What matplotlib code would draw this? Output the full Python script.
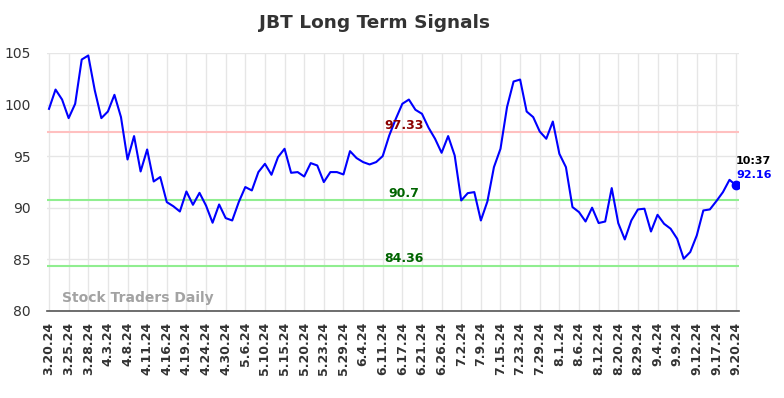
import matplotlib.pyplot as plt

# closing prices, 3 samples per date label
prices = [
    99.58, 101.45, 100.48, 98.68, 100.07, 104.36, 104.75, 101.36, 98.68, 99.32,
    100.94, 98.78, 94.67, 96.94, 93.51, 95.64, 92.54, 92.97, 90.54, 90.14,
    89.63, 91.57, 90.28, 91.44, 90.20, 88.54, 90.31, 88.99, 88.76, 90.54,
    92.0, 91.67, 93.45, 94.25, 93.19, 94.9, 95.71, 93.38, 93.45, 93.02,
    94.32, 94.09, 92.48, 93.45, 93.45, 93.22, 95.48, 94.81, 94.42, 94.19,
    94.42, 95.0, 97.0, 98.61, 100.07, 100.48, 99.49, 99.1, 97.76, 96.68,
    95.32, 96.94, 95.06, 90.7, 91.41, 91.51, 88.76, 90.6, 93.93, 95.71,
    99.75, 102.23, 102.42, 99.32, 98.78, 97.38, 96.68, 98.35, 95.22, 93.93,
    90.06, 89.57, 88.66, 90.0, 88.51, 88.66, 91.9, 88.5, 86.92, 88.76,
    89.83, 89.9, 87.69, 89.31, 88.44, 87.96, 86.99, 85.05, 85.7, 87.31,
    89.73, 89.83, 90.64, 91.51, 92.7, 92.16,
]
date_labels = [
    "3.20.24", "3.25.24", "3.28.24", "4.3.24", "4.8.24", "4.11.24", "4.16.24",
    "4.19.24", "4.24.24", "4.30.24", "5.6.24", "5.10.24", "5.15.24", "5.20.24",
    "5.23.24", "5.29.24", "6.4.24", "6.11.24", "6.17.24", "6.21.24", "6.26.24",
    "7.2.24", "7.9.24", "7.15.24", "7.23.24", "7.29.24", "8.1.24", "8.6.24",
    "8.12.24", "8.20.24", "8.29.24", "9.4.24", "9.9.24", "9.12.24", "9.17.24",
    "9.20.24",
]
upper = 97.33
mid = 90.7
lower = 84.36
last_time = "10:37"

fig = plt.figure(figsize=(7.84, 3.98), dpi=100)
ax = fig.add_axes([0.060, 0.219, 0.883, 0.648])

x = list(range(len(prices)))
ax.plot(x, prices, color="blue", lw=1.5, zorder=3)
ax.plot(x[-1], prices[-1], "o", color="blue", ms=6, zorder=4)

ax.axhline(upper, color="#ffc0c0", lw=1.5, zorder=2)
ax.axhline(mid, color="#90ee90", lw=1.5, zorder=2)
ax.axhline(lower, color="#90ee90", lw=1.5, zorder=2)

tx = 54.2
ax.text(tx, upper + 0.05, f"{upper:.2f}", color="#8b0000", fontsize=9,
        fontweight="bold", ha="center", va="bottom")
ax.text(tx, mid + 0.05, f"{mid:g}", color="#006400", fontsize=9,
        fontweight="bold", ha="center", va="bottom")
ax.text(tx, lower + 0.05, f"{lower:.2f}", color="#006400", fontsize=9,
        fontweight="bold", ha="center", va="bottom")

ax.text(x[-1], prices[-1] + 1.9, last_time, color="black", fontsize=8,
        fontweight="bold", ha="left", va="bottom")
ax.text(x[-1], prices[-1] + 0.5, f"{prices[-1]:.2f}", color="blue", fontsize=8,
        fontweight="bold", ha="left", va="bottom")

ax.text(2, 80.6, "Stock Traders Daily", color="#999999", fontsize=10,
        fontweight="bold", ha="left", va="bottom", alpha=0.9)

ax.set_xlim(-0.3, 105.5)
ax.set_ylim(80, 105)
ax.set_yticks([80, 85, 90, 95, 100, 105])
ax.set_xticks(x[::3])
ax.set_xticklabels(date_labels, rotation=90, fontsize=9, fontweight="bold")
ax.tick_params(axis="both", length=0, colors="#333333")
ax.tick_params(axis="y", labelsize=10, pad=12)
ax.tick_params(axis="x", pad=8)
ax.grid(True, color="#e6e6e6", lw=1)
ax.set_axisbelow(True)
for side in ["top", "right", "left"]:
    ax.spines[side].set_visible(False)
ax.spines["bottom"].set_color("#555555")
ax.spines["bottom"].set_linewidth(1.2)

fig.suptitle("JBT Long Term Signals", x=0.478, y=0.965, fontsize=13.3,
             fontweight="bold", color="#333333")

fig.savefig("out.png", dpi=100)
